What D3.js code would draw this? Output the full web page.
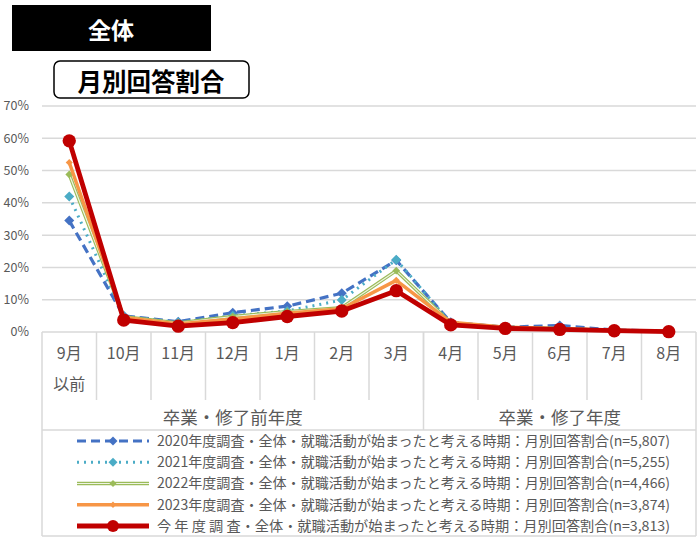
<!DOCTYPE html>
<html>
<head>
<meta charset="utf-8">
<script src="https://cdn.jsdelivr.net/npm/d3@7"></script>
<style>
  body { margin: 0; background: #fff; }
  svg { display: block; font-family: "Noto Sans CJK JP", "Noto Sans", sans-serif; }
</style>
</head>
<body>
<div id="app"></div>
<script>
const months = ["9月", "10月", "11月", "12月", "1月", "2月", "3月", "4月", "5月", "6月", "7月", "8月"];
const groups = ["卒業・修了前年度", "卒業・修了年度"];
const groupSizes = [7, 5];
const yTicks = [0, 0.1, 0.2, 0.3, 0.4, 0.5, 0.6, 0.7];

const s2020 = [0.345, 0.05, 0.032, 0.06, 0.08, 0.12, 0.222, 0.03, 0.015, 0.02, 0.006, 0.002];
const s2021 = [0.42, 0.048, 0.03, 0.05, 0.065, 0.099, 0.224, 0.028, 0.014, 0.012, 0.005, 0.002];
const s2022 = [0.488, 0.047, 0.028, 0.048, 0.063, 0.075, 0.19, 0.028, 0.014, 0.011, 0.005, 0.002];
const s2023 = [0.525, 0.045, 0.025, 0.04, 0.058, 0.072, 0.16, 0.03, 0.015, 0.01, 0.005, 0.002];
const sNow = [0.592, 0.037, 0.018, 0.029, 0.048, 0.065, 0.128, 0.022, 0.011, 0.008, 0.004, 0.001];

const legendLabels = [
  "2020年度調査・全体・就職活動が始まったと考える時期：月別回答割合(n=5,807)",
  "2021年度調査・全体・就職活動が始まったと考える時期：月別回答割合(n=5,255)",
  "2022年度調査・全体・就職活動が始まったと考える時期：月別回答割合(n=4,466)",
  "2023年度調査・全体・就職活動が始まったと考える時期：月別回答割合(n=3,874)",
  "今 年 度 調 査・全体・就職活動が始まったと考える時期：月別回答割合(n=3,813)"
];

const series = [
  { values: s2020, color: "#4472C4", width: 3.2, dash: "9,5", marker: "diamond", msize: 50 },
  { values: s2021, color: "#4BACC6", width: 3, dash: "2,5", marker: "diamond", msize: 50 },
  { values: s2022, color: "#9BBB59", width: 3.5, dash: null, marker: "diamond", msize: 30, hollow: true },
  { values: s2023, color: "#F79646", width: 3.5, dash: null, marker: "diamond", msize: 25 },
  { values: sNow, color: "#C00000", width: 4.8, dash: null, marker: "circle", msize: 140 }
];

const svg = d3.create("svg").attr("width", 700).attr("height", 542);

const plotLeft = 42, plotRight = 696, plotTop = 106, plotBottom = 332;
const x = d3.scaleBand().domain(months).range([plotLeft, plotRight]);
const y = d3.scaleLinear().domain([0, 0.7]).range([plotBottom, plotTop]);
const grey = "#D9D9D9";
const textGrey = "#595959";

// title boxes
svg.append("rect").attr("x", 12).attr("y", 5).attr("width", 199).attr("height", 46).attr("fill", "#000");
svg.append("text").attr("x", 111).attr("y", 29).attr("fill", "#fff")
  .attr("text-anchor", "middle").attr("dominant-baseline", "central")
  .attr("font-size", 23).attr("font-weight", 700).text("全体");
svg.append("rect").attr("x", 54).attr("y", 61).attr("width", 195).attr("height", 37).attr("rx", 6)
  .attr("fill", "#fff").attr("stroke", "#000").attr("stroke-width", 1.5);
svg.append("text").attr("x", 151).attr("y", 80).attr("fill", "#000")
  .attr("text-anchor", "middle").attr("dominant-baseline", "central")
  .attr("font-size", 24.5).attr("font-weight", 700).text("月別回答割合");

// grid + y labels
svg.append("g").selectAll("line").data(yTicks).join("line")
  .attr("x1", plotLeft).attr("x2", plotRight)
  .attr("y1", d => y(d)).attr("y2", d => y(d))
  .attr("stroke", grey).attr("stroke-width", 1.5);
svg.append("g").selectAll("text").data(yTicks).join("text")
  .attr("x", 29).attr("y", d => y(d)).attr("dy", "0.35em")
  .attr("text-anchor", "end").attr("font-size", 12.5).attr("fill", textGrey)
  .text(d => d3.format(".0%")(d));

// category table
const tableBottom = 400, groupBottom = 430, legendBottom = 536;
svg.append("g").selectAll("line").data(months.slice(1)).join("line")
  .attr("x1", d => x(d)).attr("x2", d => x(d))
  .attr("y1", plotBottom).attr("y2", tableBottom)
  .attr("stroke", grey).attr("stroke-width", 1.5);
svg.append("line").attr("x1", plotLeft).attr("x2", plotLeft).attr("y1", plotBottom).attr("y2", legendBottom)
  .attr("stroke", grey).attr("stroke-width", 1.5);
svg.append("line").attr("x1", plotRight).attr("x2", plotRight).attr("y1", plotBottom).attr("y2", legendBottom)
  .attr("stroke", grey).attr("stroke-width", 1.5);
svg.append("line").attr("x1", x(months[groupSizes[0]])).attr("x2", x(months[groupSizes[0]]))
  .attr("y1", plotBottom).attr("y2", groupBottom).attr("stroke", grey).attr("stroke-width", 1.5);
svg.append("line").attr("x1", plotLeft).attr("x2", plotRight).attr("y1", groupBottom).attr("y2", groupBottom)
  .attr("stroke", grey).attr("stroke-width", 1.5);
svg.append("line").attr("x1", plotLeft).attr("x2", plotRight).attr("y1", legendBottom).attr("y2", legendBottom)
  .attr("stroke", grey).attr("stroke-width", 1.5);

svg.append("g").selectAll("text").data(months).join("text")
  .attr("x", d => x(d) + x.bandwidth() / 2).attr("y", 353).attr("dy", "0.35em")
  .attr("text-anchor", "middle").attr("font-size", 16).attr("fill", textGrey)
  .text(d => d);
svg.append("text").attr("x", x(months[0]) + x.bandwidth() / 2).attr("y", 384).attr("dy", "0.35em")
  .attr("text-anchor", "middle").attr("font-size", 16).attr("fill", textGrey).text("以前");

let start = 0;
groups.forEach((g, i) => {
  const a = x(months[start]);
  const b = x(months[start + groupSizes[i] - 1]) + x.bandwidth();
  svg.append("text").attr("x", (a + b) / 2).attr("y", 418).attr("dy", "0.35em")
    .attr("text-anchor", "middle").attr("font-size", 17.5).attr("fill", textGrey).text(g);
  start += groupSizes[i];
});

// lines
const line = d3.line().x((d, i) => x(months[i]) + x.bandwidth() / 2).y(d => y(d));

function drawMarker(sel, s, cx, cy, k = 1) {
  const shape = s.marker === "circle" ? d3.symbolCircle : d3.symbolSquare;
  const rot = s.marker === "circle" ? "" : " rotate(45)";
  sel.append("path")
    .attr("d", d3.symbol(shape, s.msize * k)())
    .attr("transform", `translate(${cx},${cy})${rot}`)
    .attr("fill", s.color);
}

series.forEach(s => {
  const g = svg.append("g");
  g.append("path").datum(s.values).attr("d", line)
    .attr("fill", "none").attr("stroke", s.color).attr("stroke-width", s.width)
    .attr("stroke-dasharray", s.dash).attr("stroke-linejoin", "round");
  if (s.hollow) {
    g.append("path").datum(s.values).attr("d", line)
      .attr("fill", "none").attr("stroke", "#EEF4E4").attr("stroke-width", 1.2);
  }
  s.values.forEach((v, i) => drawMarker(g, s, x(months[i]) + x.bandwidth() / 2, y(v)));
});

// legend
const legY = d3.scalePoint().domain(d3.range(legendLabels.length)).range([441, 526]);
legendLabels.forEach((lab, i) => {
  const s = series[i];
  const ly = legY(i);
  const g = svg.append("g");
  g.append("line").attr("x1", 77).attr("x2", 149).attr("y1", ly).attr("y2", ly)
    .attr("stroke", s.color).attr("stroke-width", s.width).attr("stroke-dasharray", s.dash);
  if (s.hollow) {
    g.append("line").attr("x1", 77).attr("x2", 149).attr("y1", ly).attr("y2", ly)
      .attr("stroke", "#EEF4E4").attr("stroke-width", 1.2);
  }
  drawMarker(g, s, 113, ly, 0.8);
  g.append("text").attr("x", 157).attr("y", ly).attr("dy", "0.35em")
    .attr("font-size", 14).attr("fill", textGrey)
    .attr("textLength", 513).attr("lengthAdjust", "spacingAndGlyphs")
    .text(lab);
});

document.getElementById("app").append(svg.node());
</script>
</body>
</html>
